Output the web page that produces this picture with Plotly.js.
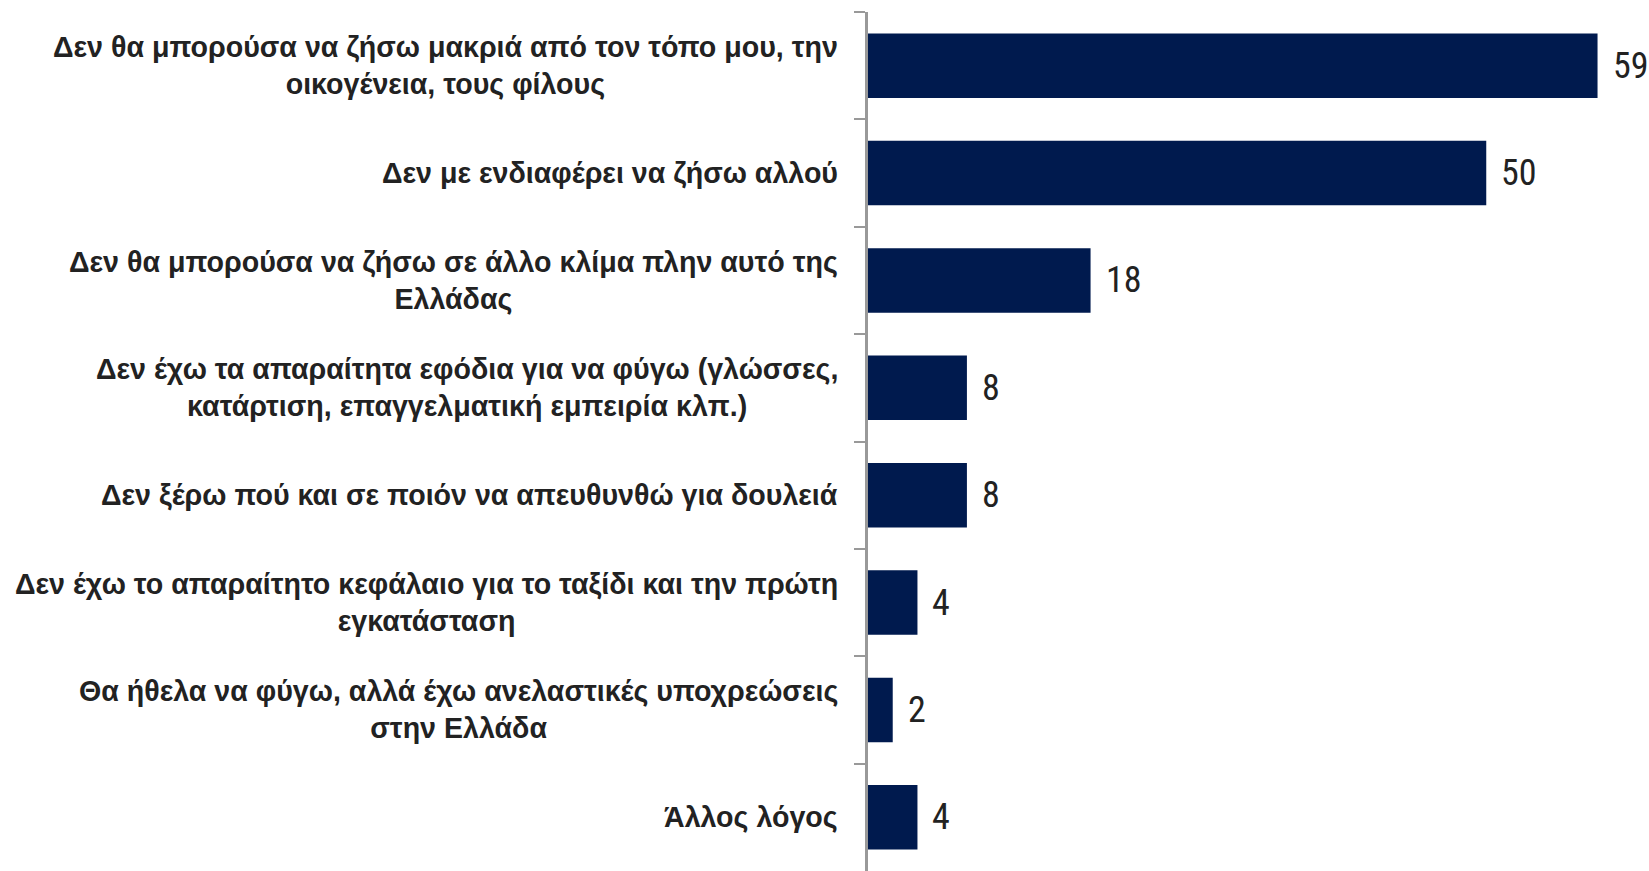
<!DOCTYPE html>
<html>
<head>
<meta charset="utf-8">
<script src="https://cdn.plot.ly/plotly-3.0.1.min.js"></script>
<style>html,body{margin:0;padding:0;background:#fff;}#chart{width:1649px;height:871px;}</style>
</head>
<body>
<div id="chart"></div>
<script>
const categories = [
  "Δεν θα μπορούσα να ζήσω μακριά από τον τόπο μου, την<br>οικογένεια, τους φίλους",
  "Δεν με ενδιαφέρει να ζήσω αλλού",
  "Δεν θα μπορούσα να ζήσω σε άλλο κλίμα πλην αυτό της<br>Ελλάδας",
  "Δεν έχω τα απαραίτητα εφόδια για να φύγω (γλώσσες,<br>κατάρτιση, επαγγελματική εμπειρία κλπ.)",
  "Δεν ξέρω πού και σε ποιόν να απευθυνθώ για δουλειά",
  "Δεν έχω το απαραίτητο κεφάλαιο για το ταξίδι και την πρώτη<br>εγκατάσταση",
  "Θα ήθελα να φύγω, αλλά έχω ανελαστικές υποχρεώσεις<br>στην Ελλάδα",
  "Άλλος λόγος"
];
const values = [59, 50, 18, 8, 8, 4, 2, 4];

const barColor = "#001a4e";
const textColor = "#222222";
const numFont = "Roboto Condensed, Liberation Sans Narrow, DejaVu Sans Condensed, sans-serif";
const labelFont = "Liberation Sans, Arial, sans-serif";

const trace = {
  type: "bar",
  orientation: "h",
  x: values,
  y: categories,
  marker: {color: barColor},
  hoverinfo: "none"
};

const annotations = [];
categories.forEach((c, i) => {
  annotations.push({
    xref: "paper", yref: "y", x: 0, y: c,
    xanchor: "right", yanchor: "middle", xshift: -28,
    text: "<b>" + c + "</b>", align: "center", showarrow: false,
    font: {family: labelFont, size: 28.6, color: textColor}
  });
  annotations.push({
    xref: "x", yref: "y", x: values[i], y: c,
    xanchor: "left", yanchor: "middle", xshift: 13,
    text: String(values[i]), showarrow: false,
    font: {family: numFont, size: 36, color: textColor}
  });
});

const layout = {
  width: 1649, height: 871,
  margin: {l: 868, r: 2, t: 12, b: 0},
  paper_bgcolor: "#ffffff",
  plot_bgcolor: "#ffffff",
  showlegend: false,
  bargap: 0.4,
  xaxis: {range: [0, 63], visible: false, fixedrange: true},
  yaxis: {
    type: "category",
    autorange: "reversed",
    showticklabels: false,
    showline: true, linecolor: "#999999", linewidth: 3,
    ticks: "outside", tickson: "boundaries", ticklen: 11, tickwidth: 2, tickcolor: "#999999",
    showgrid: false, zeroline: false
  },
  annotations: annotations
};

Plotly.newPlot("chart", [trace], layout, {displayModeBar: false, staticPlot: true});
</script>
</body>
</html>
